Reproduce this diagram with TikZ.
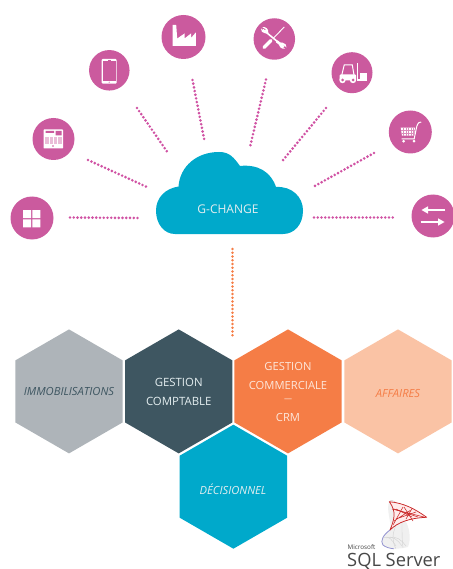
\documentclass[tikz,border=0pt]{standalone}
\usepackage{fontspec}
\setmainfont{Open Sans}
\usetikzlibrary{shapes.geometric}
\definecolor{pinkc}{HTML}{CB5A9E}
\definecolor{pinkd}{HTML}{D052A3}
\definecolor{orangec}{HTML}{F57D46}
\definecolor{cloudc}{HTML}{00A9CB}
\definecolor{grayh}{HTML}{AEB4B9}
\definecolor{darkh}{HTML}{3E5661}
\definecolor{peach}{HTML}{FAC3A5}
\definecolor{lbl}{HTML}{E4EEF0}
\tikzset{
  disc/.style={circle,fill=pinkc,inner sep=0pt,minimum size=#1},
  hexa/.style={regular polygon,regular polygon sides=6,shape border rotate=90,minimum size=124pt,inner sep=0pt,fill=#1},
  dots/.style={line width=2.9pt,line cap=round,dash pattern=on 0pt off 3.75pt,draw=#1},
  lab/.style={font=\fontsize{#1}{#1}\selectfont,inner sep=0pt}
}
\begin{document}
\begin{tikzpicture}[x=1pt,y=-1pt]
\useasboundingbox (0,0) rectangle (452,569);
% named free ends
\foreach \n/\x/\y in {a1/70/217.5,a2/141/218,b1/88/160,b2/148/187.5,c1/137/108,c2/168/153,d1/192.5/80,d2/204.5/141,
  e1/266/79.5,e2/250/147,f1/326/108,f2/281.5/162,g1/374/153,g2/313/187,h1/314/217.5,h2/396/217.5,o1/232.5/249,o2/232.5/338}
  \coordinate (\n) at (\x,\y);
\foreach \p/\q in {a1/a2,b1/b2,c1/c2,d1/d2,e1/e2,f1/f2,g1/g2,h1/h2}
  \draw[dots=pinkd] (\p) -- (\q);
\draw[dots=orangec] (o1) -- (o2);
% discs
\node[disc=43pt] (grid) at (32,218) {};
\node[disc=42pt] (till) at (53.5,139) {};
\node[disc=40.5pt] (phone) at (109.3,70.3) {};
\node[disc=44pt] (factory) at (183.5,37) {};
\node[disc=41.5pt] (tools) at (274.3,39) {};
\node[disc=41pt] (fork) at (352,72.7) {};
\node[disc=43pt] (cart) at (410.3,132) {};
\node[disc=43pt] (swap) at (433,216) {};
% grid icon
\fill[white] (23,210) rectangle (31,218) (32.3,210) rectangle (40.3,218) (23,219.3) rectangle (31,227.3) (32.3,219.3) rectangle (40.3,227.3);
% till icon
\fill[white,rounded corners=0.6pt] (43.5,129.5) rectangle (63,148.5);
\fill[pinkc] (45.5,131) rectangle (54,133) (55.5,131) rectangle (61.5,135.5);
\fill[pinkc!40!white] (45,137) rectangle (61.8,144);
\foreach \x in {49,53,57} \fill[white] (\x,137) rectangle +(1.4,7);
\fill[pinkc] (53,146) circle (0.9);
% phone icon
\fill[white,rounded corners=1pt] (101.7,59) rectangle (116.7,83.6);
\fill[pinkc] (102.7,61.5) rectangle (115.7,80.8);
\fill[pinkc] (107.5,59.8) rectangle (111,60.4);
\fill[pinkc] (109.2,82.2) circle (0.6);
% factory icon
\fill[white] (172.7,25) -- (176.2,25) -- (177.2,38.5) -- (184.5,33.5) -- (184.5,38.5) -- (191,33.5) -- (191,38) -- (195.8,32.5) -- (195.8,45.8) -- (172.7,45.8) -- cycle;
% tools icon
\draw[white,line width=1.6pt] (262.8,29.5) -- (284,47);
\draw[white,line width=2.6pt,line cap=round] (277,41.5) -- (282.7,46);
\fill[white] (262.3,27.2) .. controls (265.5,26.2) and (269,29) .. (268.3,33) -- (265.5,33.5) .. controls (262.5,33.5) and (260.5,30.5) .. (261,28.5) -- (264,31) -- (266,29.5) -- cycle;
\fill[white] (285,48.5) .. controls (282,49.5) and (278.5,47) .. (279,43) -- (282,42.5) .. controls (285,42.5) and (287,45.5) .. (286.5,47.5) -- (283.5,45) -- (281.5,46.5) -- cycle;
\draw[white,line width=0.9pt] (284.3,27) -- (273,38.5);
\draw[white,line width=3.4pt,line cap=round] (271,40.5) -- (264,47.5);
% forklift icon
\fill[white] (357,63) rectangle (358.2,81.3);
\fill[white] (358,79.5) -- (366.8,79.5) -- (366.8,80.8) -- (358,80.8) -- cycle;
\fill[white] (359.6,72.8) rectangle (366.6,78.6);
\draw[white,line width=1pt] (341.8,75) -- (344.2,65) -- (352.3,65) -- (354,75);
\fill[white,rounded corners=1pt] (339.7,74.5) rectangle (356,80.5);
\fill[white] (342.5,80) circle (3.2) (353,80) circle (3.2);
\fill[pinkc] (342.5,80) circle (1.5) (353,80) circle (1.5);
% cart icon
\fill[white] (400.7,127.7) -- (415,127.7) -- (413.8,135.7) -- (402,135.7) -- cycle;
\foreach \x in {403.2,405.7,408.2,410.7,413} \draw[pinkc!70!white,line width=0.4pt] (\x,127.7) -- (\x,135.7);
\foreach \y in {130.2,132.8} \draw[pinkc!70!white,line width=0.4pt] (400.5,\y) -- (415,\y);
\draw[white,line width=1pt] (421.2,122) .. controls (417.5,122.3) and (417,125) .. (416,130) -- (414.2,138.8) -- (401.5,138.8);
\fill[white] (403.6,141.2) circle (1.5) (414,141.2) circle (1.5);
% swap icon
\draw[white,line width=1.6pt] (445.3,210) -- (425,210);
\fill[white] (421.5,210) -- (428,206.3) -- (428,213.7) -- cycle;
\draw[white,line width=1.6pt] (420.7,222) -- (441,222);
\fill[white] (444.5,222) -- (438,218.3) -- (438,225.7) -- cycle;
% cloud
\fill[cloudc] (175,234)
  .. controls (164,234) and (156,224) .. (156,210.5)
  .. controls (156,198) and (165,188.5) .. (178.5,186.5)
  .. controls (180,166) and (197,152) .. (219,152)
  .. controls (230,152) and (234,158) .. (240,166)
  .. controls (258,164) and (271,172) .. (276,187)
  .. controls (292,186) and (303,197) .. (303,210.5)
  .. controls (303,225) and (294,234) .. (283,234)
  -- cycle;
\node[lab=12pt,text=lbl] (gc) at (228,209.5) {G-CHANGE};
% hexagons
\node[hexa=grayh] (hi) at (69,391.4) {};
\node[hexa=darkh] (hg) at (178.7,391.4) {};
\node[hexa=orangec] (hc) at (288,391.4) {};
\node[hexa=peach] (ha) at (398,391.4) {};
\node[hexa=cloudc] (hd) at (233.4,486.7) {};
\node[inner sep=0pt,text=darkh,font=\itshape\fontsize{11.2pt}{11.2pt}\selectfont] (t1) at (69,391.5) {IMMOBILISATIONS};
\node[lab=11.4pt,text=lbl] (t2a) at (178.7,382) {GESTION};
\node[lab=11.4pt,text=lbl] (t2b) at (178.7,401) {COMPTABLE};
\node[lab=11.2pt,text=peach!40!white] (t3a) at (288,366) {GESTION};
\node[lab=11.2pt,text=peach!40!white] (t3b) at (288,385) {COMMERCIALE};
\node[lab=8pt,text=peach!40!white] (t3c) at (288,400.5) {—};
\node[lab=11.2pt,text=peach!40!white] (t3d) at (288,417) {CRM};
\node[inner sep=0pt,text=orangec,font=\itshape\fontsize{11.2pt}{11.2pt}\selectfont] (t4) at (398,393.5) {AFFAIRES};
\node[inner sep=0pt,text=lbl,font=\itshape\fontsize{11.2pt}{11.2pt}\selectfont] (t5) at (233,489) {DÉCISIONNEL};
% SQL Server logo
\fill[gray!12] (389,501.5) .. controls (386,512) and (392,522) .. (390,530)
  .. controls (384,534) and (380,540) .. (382,545) .. controls (390,550) and (400,549) .. (408,547)
  .. controls (412,537) and (408,525) .. (406,522) -- (400,506) -- cycle;
\foreach \a/\b in {389/402,386/398,383/392}
  \draw[gray!35,line width=0.4pt] (\a,538) .. controls (\a+6,535) and (\b,540) .. (\b+4,546);
\draw[gray!35,line width=0.4pt] (396,525) .. controls (392,535) and (392,541) .. (396,549);
\draw[gray!35,line width=0.4pt] (402,523) .. controls (402,533) and (402,541) .. (403,548);
\draw[gray!45,line width=0.4pt] (389,501.5) .. controls (392,498) and (396,503) .. (400,506);
\draw[gray!60!blue!60,line width=0.8pt] (390,530) .. controls (383,535) and (380,541) .. (383,545) .. controls (385,547) and (390,548.5) .. (394,548.8);
\fill[red!8] (389.3,501.7) .. controls (404,503) and (415,509) .. (426.7,517.3) .. controls (410,518) and (398,522) .. (390,530) .. controls (394,520) and (397,512) .. (389.3,501.7) -- cycle;
\draw[red!75!black!85,line width=0.75pt,line join=round] (389.3,501.7) .. controls (404,503) and (415,509) .. (426.7,517.3) .. controls (410,518) and (398,522) .. (390,530) .. controls (394,520) and (397,512) .. (389.3,501.7) -- cycle;
\foreach \p/\q in {392/424,394/418,396/412}
  \draw[red!75!black!85,line width=0.5pt] (\p,509) -- (\q,517);
\draw[red!75!black!85,line width=0.55pt] (394,521) -- (410,510.5) (393,525) -- (403,507) (396,519) -- (416,512) (404,507) -- (413,521) (412,508.5) -- (406,519);
\node[lab=6.3pt,text=black!75,anchor=base west] (ms) at (347.5,549.8) {Microsoft};
\node[lab=18.3pt,text=black!72,anchor=base west] (sql) at (347,566) {SQL Server};
\end{tikzpicture}
\end{document}
